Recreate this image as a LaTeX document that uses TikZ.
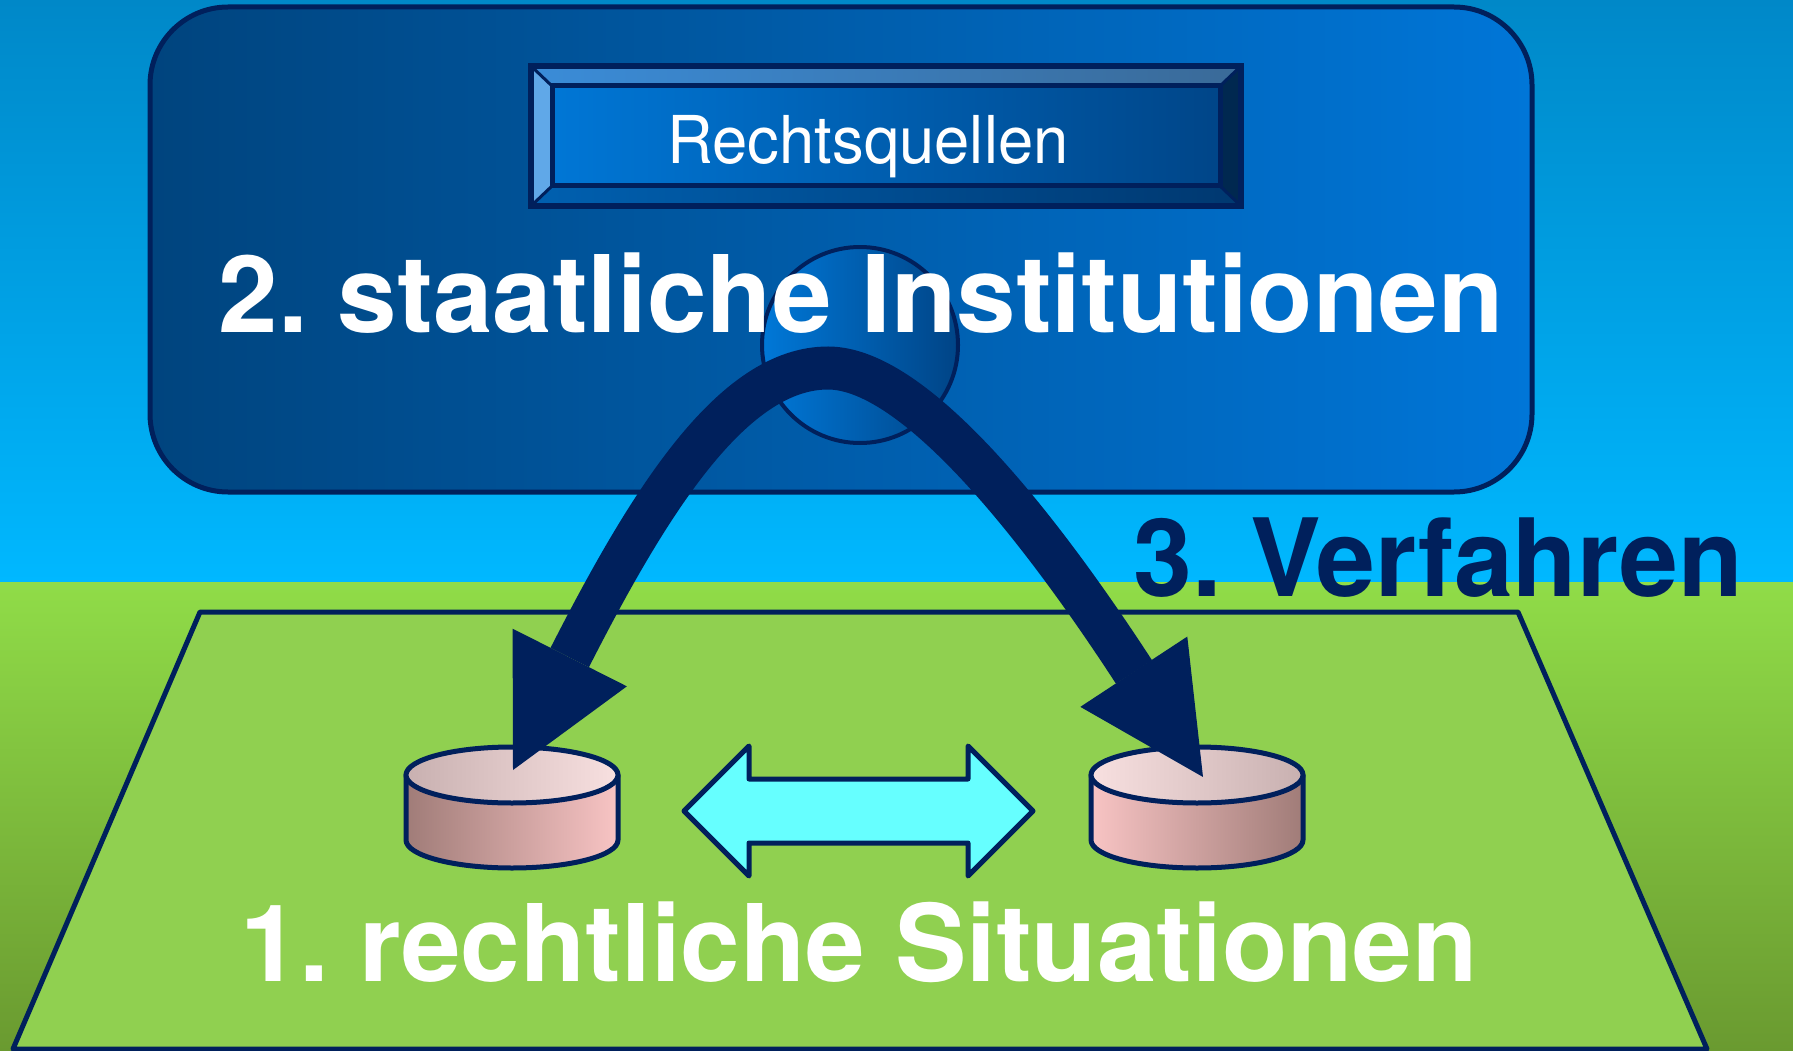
\documentclass[tikz,border=0pt]{standalone}
\usepackage{fontspec}
\setmainfont{TeX Gyre Heros}
\usetikzlibrary{arrows.meta}
\frenchspacing
\definecolor{navy}{HTML}{00205C}
\definecolor{skyTop}{HTML}{0088C8}
\definecolor{skyBot}{HTML}{00B8FF}
\definecolor{grassTop}{HTML}{90DC48}
\definecolor{grassBot}{HTML}{6A9A30}
\definecolor{field}{HTML}{90D050}
\definecolor{boxL}{HTML}{00447E}
\definecolor{boxR}{HTML}{0076D8}
\definecolor{panelL}{HTML}{0078D8}
\definecolor{panelR}{HTML}{004486}
\definecolor{bevelTopL}{HTML}{3A8CD8}
\definecolor{bevelTopR}{HTML}{3A6A98}
\definecolor{bevelLeft}{HTML}{60A8E8}
\definecolor{bevelRight}{HTML}{002850}
\definecolor{bevelBotL}{HTML}{0060B0}
\definecolor{bevelBotR}{HTML}{003870}
\definecolor{sideDark}{HTML}{A07C78}
\definecolor{sideLight}{HTML}{F8C4C4}
\definecolor{topDark}{HTML}{C8B0B0}
\definecolor{topLight}{HTML}{F8E0E0}
\definecolor{swap}{HTML}{66FFFF}
\tikzset{outline/.style={draw=navy, line width=5pt, line join=round}}
\tikzset{bigtext/.style={font=\bfseries\fontsize{107}{110}\selectfont, text=white, inner sep=0pt, anchor=base}}
\tikzset{lawhead/.tip={Triangle[width=128pt, length=126pt, line width=0pt]}}
\tikzset{lawarrow/.style={draw=navy, line width=43pt, {lawhead}-{lawhead}}}

\begin{document}
\begin{tikzpicture}[x=1pt, y=-1pt]
\useasboundingbox (0,0) rectangle (1793,1051);
% background
\fill[top color=skyTop, bottom color=skyBot] (0,0) rectangle (1793,582);
\fill[top color=grassTop, bottom color=grassBot] (0,582) rectangle (1793,1051);
% state institutions
\draw[outline, left color=boxL, right color=boxR, rounded corners=78pt] (150,7) rectangle (1532,492);
\fill[left color=panelL, right color=panelR] (531,66) rectangle (1241,206);
\fill[left color=bevelTopL, right color=bevelTopR] (531,66) -- (1241,66) -- (1220,86) -- (552,86) -- cycle;
\fill[bevelLeft] (531,66) -- (552,86) -- (552,186) -- (531,206) -- cycle;
\fill[bevelRight] (1241,66) -- (1220,86) -- (1220,186) -- (1241,206) -- cycle;
\fill[left color=bevelBotL, right color=bevelBotR] (531,206) -- (552,186) -- (1220,186) -- (1241,206) -- cycle;
\draw[navy, line width=3pt] (531,66) -- (552,86) (1241,66) -- (1220,86) (531,206) -- (552,186) (1241,206) -- (1220,186);
\draw[navy, line width=5pt] (552,86) rectangle (1220,186);
\draw[navy, line width=6pt] (531,66) rectangle (1241,206);
\node[font=\fontsize{66}{70}\selectfont, text=white, inner sep=0pt, anchor=base, xscale=0.96] (quellen) at (868,164) {Rechtsquellen};
\draw[outline, line width=4pt, left color=panelL, right color=panelR] (860,345) circle[radius=98];
\node[bigtext] (staat) at (861,332) {2. staatliche Institutionen};
% legal situations
\draw[outline, fill=field] (200,612) -- (1518,612) -- (1707,1049) -- (13,1049) -- cycle;
\foreach \cx/\sl/\sr/\tl/\tr in {512/sideDark/sideLight/topDark/topLight, 1197/sideLight/sideDark/topLight/topDark}
{
  \draw[outline, left color=\sl, right color=\sr] (\cx-106,775) -- (\cx-106,840) arc[start angle=180, end angle=0, x radius=106, y radius=28] -- (\cx+106,775) -- cycle;
  \draw[outline, left color=\tl, right color=\tr] (\cx,775) ellipse[x radius=106, y radius=28];
}
\draw[outline, fill=swap] (684,811) -- (749,746) -- (749,779) -- (968,779) -- (968,746) -- (1033,811)
  -- (968,876) -- (968,843) -- (749,843) -- (749,876) -- cycle;
% procedure
\coordinate (lefttip) at (513,770);
\coordinate (leftbase) at (570,657);
\coordinate (apex) at (828,368);
\coordinate (rightbase) at (1134,672);
\coordinate (righttip) at (1203,777);
\draw[lawarrow] (lefttip) -- (leftbase) .. controls (650,500) and (733,368) .. (apex)
  .. controls (920,368) and (1052,546) .. (rightbase) -- (righttip);
\node[bigtext, text=navy, font=\bfseries\fontsize{108}{110}\selectfont, xscale=0.98] (verfahren) at (1438,596) {3. Verfahren};
\node[bigtext] (situation) at (859,981) {1. rechtliche Situationen};
\end{tikzpicture}
\end{document}
